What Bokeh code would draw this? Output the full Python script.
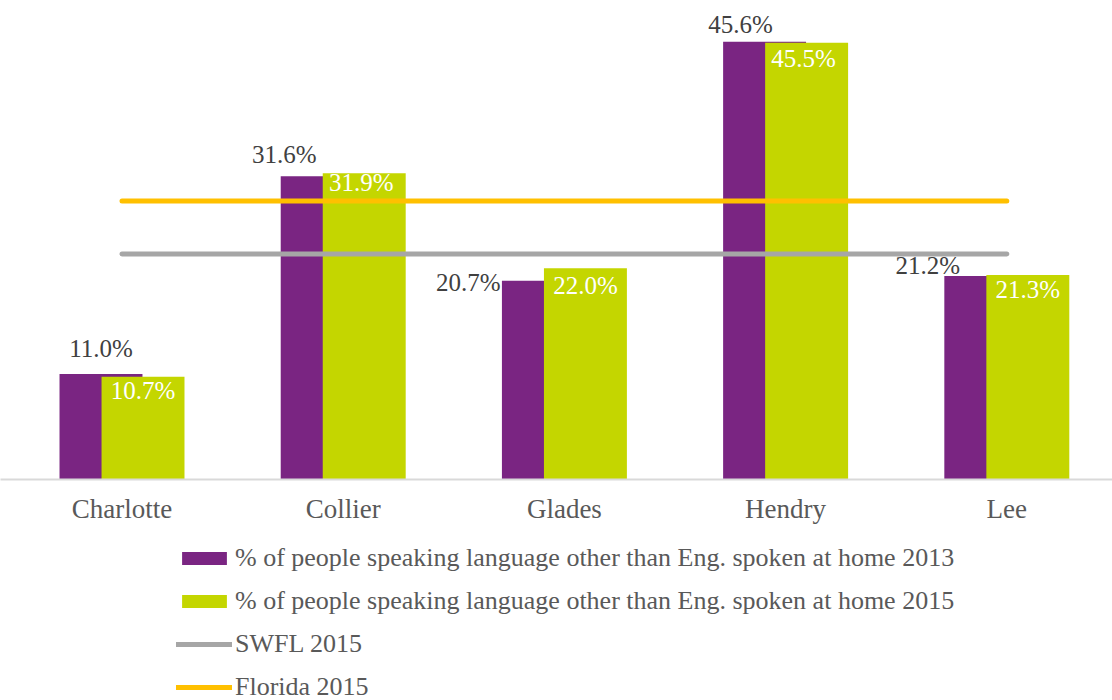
from bokeh.plotting import figure
from bokeh.layouts import column
from bokeh.models import ColumnDataSource, Range1d, FixedTicker, Legend, LegendItem
from bokeh.core.properties import value
from bokeh.embed import file_html
from bokeh.resources import INLINE

# ---- data ----
counties = ["Charlotte", "Collier", "Glades", "Hendry", "Lee"]
pct_2013 = [11.0, 31.6, 20.7, 45.6, 21.2]
pct_2015 = [10.7, 31.9, 22.0, 45.5, 21.3]
swfl_2015 = 23.5
florida_2015 = 29.0
label_2013 = ["11.0%", "31.6%", "20.7%", "45.6%", "21.2%"]
label_2015 = ["10.7%", "31.9%", "22.0%", "45.5%", "21.3%"]
series_names = [
    "% of people speaking language other than Eng. spoken at home 2013",
    "% of people speaking language other than Eng. spoken at home 2015",
    "SWFL 2015",
    "Florida 2015",
]

# ---- styling / layout ----
FONT = "Liberation Serif"
PURPLE = "#7A2582"
GREEN = "#C4D600"
GRAY = "#A6A6A6"
GOLD = "#FFC000"
OFF = 0.095
BAR_W = 0.375
# per-label pixel nudges (screen px; dx right, dy down relative to bar top)
dx_2013 = [0, -38, -75, -24, -58]
dy_2013 = [-25, -22, 2, -17, -10]
dx_2015 = [0, -3, 0, -3, 0]
dy_2015 = [14, 9, 17, 16, 14]

xs = list(range(len(counties)))
src = ColumnDataSource(dict(
    x1=[x - OFF for x in xs], x2=[x + OFF for x in xs],
    v13=pct_2013, v15=pct_2015, t13=label_2013, t15=label_2015,
    dx13=dx_2013, dy13=dy_2013, dx15=dx_2015, dy15=dy_2015,
))
swfl_line = [swfl_2015] * len(xs)
fl_line = [florida_2015] * len(xs)


def add_series(fig):
    a = fig.vbar(x="x1", top="v13", width=BAR_W, bottom=0, source=src,
                 fill_color=PURPLE, line_color=None)
    b = fig.vbar(x="x2", top="v15", width=BAR_W, bottom=0, source=src,
                 fill_color=GREEN, line_color=None)
    c = fig.line(xs, swfl_line, line_color=GRAY, line_width=5, line_cap="round")
    d = fig.line(xs, fl_line, line_color=GOLD, line_width=5, line_cap="round")
    return a, b, c, d


p = figure(frame_width=1112, frame_height=479, output_backend="svg", toolbar_location=None,
           x_range=Range1d(-0.5493, 4.4778), y_range=Range1d(0, 49.9),
           y_axis_location=None, min_border_left=0, min_border_right=0,
           min_border_top=0, min_border_bottom=0)
p.outline_line_color = None
p.grid.visible = False
add_series(p)

p.text(x="x1", y="v13", text="t13", source=src, x_offset="dx13", y_offset="dy13",
       text_align="center", text_baseline="alphabetic", text_color="#404040",
       text_font=value(FONT), text_font_size="25px")
p.text(x="x2", y="v15", text="t15", source=src, x_offset="dx15", y_offset="dy15",
       text_align="center", text_baseline="alphabetic", text_color="white",
       text_font=value(FONT), text_font_size="25px")

ax = p.xaxis[0]
ax.ticker = FixedTicker(ticks=xs)
ax.major_label_overrides = {i: c for i, c in enumerate(counties)}
ax.major_tick_line_color = None
ax.minor_tick_line_color = None
ax.major_tick_out = 0
ax.major_tick_in = 0
ax.axis_line_color = "#D9D9D9"
ax.axis_line_width = 2
ax.major_label_standoff = 14
ax.major_label_text_font = FONT
ax.major_label_text_font_size = "27px"
ax.major_label_text_color = "#595959"

# ---- legend strip: second figure, same series drawn out of its view ----
lg = figure(frame_width=1112, frame_height=174, output_backend="svg", toolbar_location=None,
            x_axis_location=None, y_axis_location=None,
            x_range=Range1d(-20, -19), y_range=Range1d(-20, -19),
            min_border_left=0, min_border_right=0, min_border_top=0, min_border_bottom=0)
lg.outline_line_color = None
lg.grid.visible = False
e13, e15, es, ef = add_series(lg)

legend = Legend(items=[
    LegendItem(label=series_names[0], renderers=[e13]),
    LegendItem(label=series_names[1], renderers=[e15]),
    LegendItem(label=series_names[2], renderers=[es]),
    LegendItem(label=series_names[3], renderers=[ef]),
], location=(176, -2))
legend.border_line_color = None
legend.background_fill_alpha = 0
legend.padding = 0
legend.margin = 0
legend.spacing = 13
legend.glyph_width = 56
legend.glyph_height = 16
legend.label_standoff = 3
legend.label_text_font = FONT
legend.label_text_font_size = "26px"
legend.label_text_color = "#595959"
lg.add_layout(legend, "center")

layout = column(p, lg, spacing=0)
open("out.html", "w").write(file_html(layout, INLINE))
